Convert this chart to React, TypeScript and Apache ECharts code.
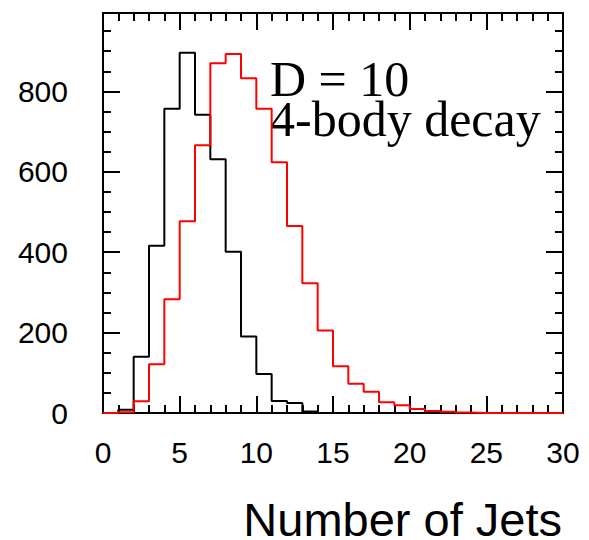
import React, { useEffect, useRef } from "react";
import * as echarts from "echarts";

// Histogram bins of width 1 covering 0..30 jets
const binEdges: number[] = Array.from({ length: 31 }, (_, i) => i);

// Counts per bin (bin i spans [i, i+1))
const blackCounts: number[] = [
  0, 8, 140, 416, 757, 896, 742, 631, 401, 190, 97, 30, 25, 4, 0,
  0, 0, 0, 0, 0, 0, 0, 0, 0, 0, 0, 0, 0, 0, 0,
];
const redCounts: number[] = [
  0, 2, 29, 121, 283, 477, 666, 870, 893, 833, 757, 624, 465, 323, 205,
  116, 73, 53, 27, 19, 10, 5, 3, 1, 0, 0, 0, 0, 0, 0,
];

const xTickLabels: string[] = ["0", "5", "10", "15", "20", "25", "30"];
const yTickLabels: string[] = ["0", "200", "400", "600", "800"];

const annotationLines: string[] = ["D = 10", "4-body decay"];
const xAxisTitle = "Number of Jets";

const toSteps = (counts: number[]) =>
  binEdges.map((x, i) => [x, counts[Math.min(i, counts.length - 1)]]);

const axisColor = "#000";
const labelFont = "'Liberation Sans', Arial, Helvetica, sans-serif";
const serifFont = "'Liberation Serif', 'Times New Roman', serif";

export default function App() {
  const ref = useRef<HTMLDivElement>(null);

  useEffect(() => {
    if (!ref.current) return;
    const chart = echarts.init(ref.current, null, { renderer: "svg" });

    const axisLine = { show: true, onZero: false, lineStyle: { color: axisColor, width: 2 } };
    const axisTick = { show: true, inside: true, length: 17, lineStyle: { color: axisColor, width: 2 } };

    const commonX = {
      type: "value" as const,
      min: 0,
      max: 30,
      interval: 5,
      axisLine,
      axisTick,
      minorTick: { show: true, splitNumber: 5, length: 8, lineStyle: { color: axisColor, width: 2 } },
      splitLine: { show: false },
    };
    const commonY = {
      type: "value" as const,
      min: 0,
      max: 995,
      interval: 200,
      axisLine,
      axisTick,
      minorTick: { show: true, splitNumber: 4, length: 8, lineStyle: { color: axisColor, width: 2 } },
      splitLine: { show: false },
    };

    chart.setOption({
      animation: false,
      backgroundColor: "#fff",
      grid: { left: 103, top: 13, right: 26, bottom: 127, containLabel: false },
      xAxis: [
        {
          ...commonX,
          position: "bottom",
          axisLabel: {
            show: true,
            margin: 24,
            color: "#000",
            fontFamily: labelFont,
            fontSize: 30,
            formatter: (v: number) => xTickLabels[Math.round(v / 5)] ?? "",
          },
        },
        { ...commonX, position: "top", axisLabel: { show: false } },
      ],
      yAxis: [
        {
          ...commonY,
          position: "left",
          axisLabel: {
            show: true,
            margin: 35,
            color: "#000",
            fontFamily: labelFont,
            fontSize: 30,
            showMaxLabel: false,
            formatter: (v: number) => yTickLabels[Math.round(v / 200)] ?? "",
          },
        },
        { ...commonY, position: "right", axisLabel: { show: false } },
      ],
      series: [
        {
          name: "black",
          type: "line",
          step: "end",
          xAxisIndex: 0,
          yAxisIndex: 0,
          data: toSteps(blackCounts),
          symbol: "none",
          lineStyle: { color: "#000", width: 2 },
          z: 3,
        },
        {
          name: "red",
          type: "line",
          step: "end",
          xAxisIndex: 0,
          yAxisIndex: 0,
          data: toSteps(redCounts),
          symbol: "none",
          lineStyle: { color: "#ff0000", width: 2 },
          z: 4,
        },
      ],
      graphic: [
        {
          type: "text",
          left: 270,
          top: 54,
          style: {
            text: annotationLines.join("\n"),
            font: `50px ${serifFont}`,
            lineHeight: 40,
            fill: "#000",
          },
        },
        {
          type: "text",
          right: 27,
          top: 496,
          style: {
            text: xAxisTitle,
            font: `47px ${labelFont}`,
            lineHeight: 40,
            fill: "#000",
          },
        },
      ],
    });

    return () => chart.dispose();
  }, []);

  return (
    <div
      ref={ref}
      style={{ position: "absolute", left: 0, top: 0, width: 589, height: 540 }}
    />
  );
}
